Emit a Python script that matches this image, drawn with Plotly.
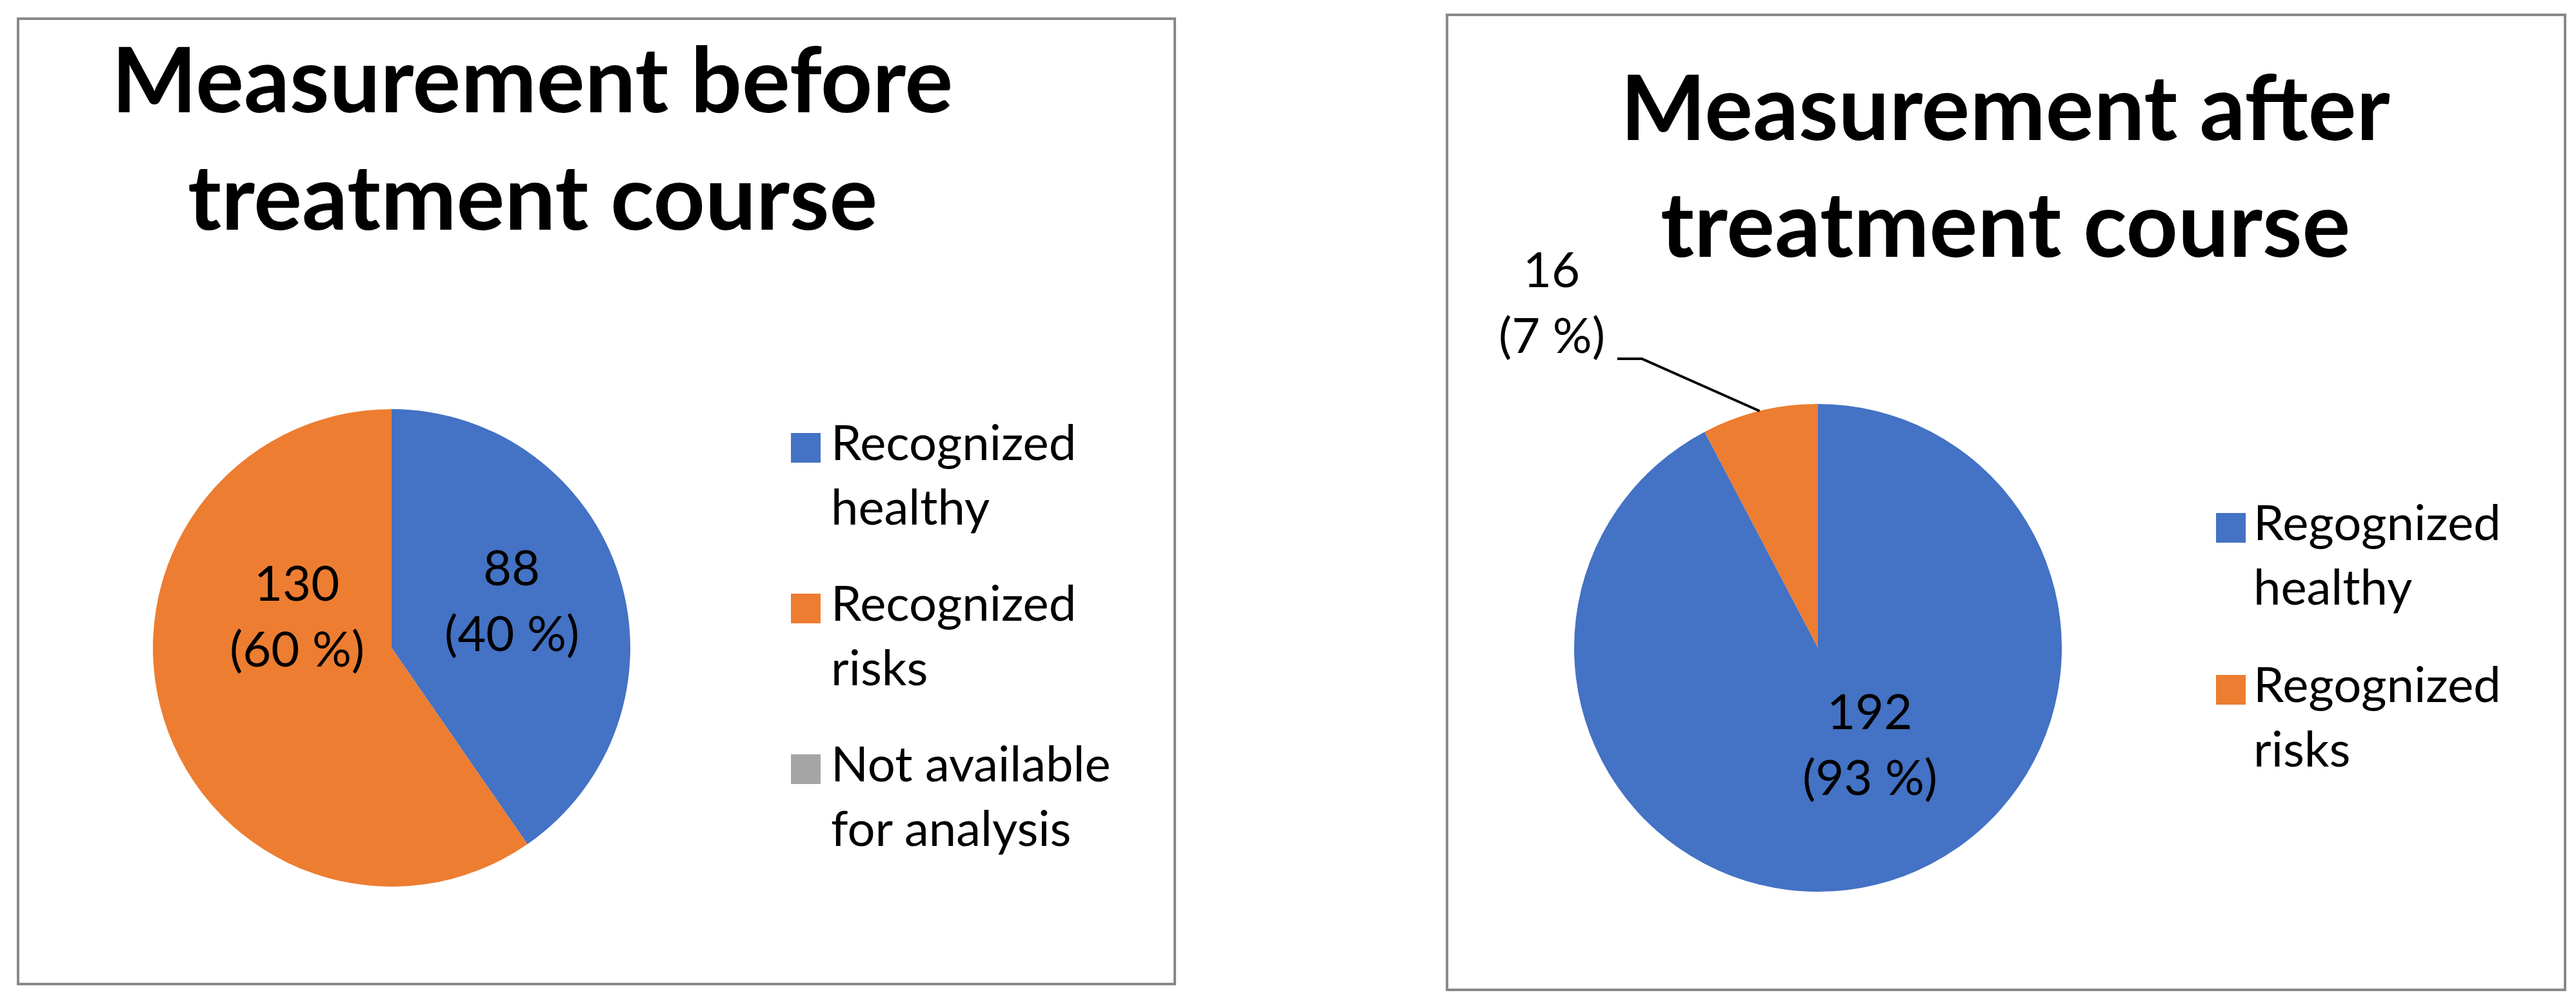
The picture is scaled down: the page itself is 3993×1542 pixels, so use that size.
import math
import plotly.graph_objects as go

W, H = 3993, 1542

# ---------------- data ----------------
before_labels = ["Recognized healthy", "Recognized risks", "Not available for analysis"]
before_values = [88, 130, 0]
before_pct = ["40 %", "60 %", ""]

after_labels = ["Regognized healthy", "Regognized risks"]
after_values = [192, 16]
after_pct = ["93 %", "7 %"]

colors = ["#4472C4", "#ED7D31", "#A5A5A5"]

title_before = ["Measurement before", "treatment course"]
title_after = ["Measurement after", "treatment course"]

# legend text split in two lines as in the picture
legend_before = [["Recognized", "healthy"], ["Recognized", "risks"], ["Not available", "for analysis"]]
legend_after = [["Regognized", "healthy"], ["Regognized", "risks"]]

FONT = "Lato"
TITLE_SIZE = 140
TEXT_SIZE = 76
LINE_GAP = 102
CAP_SHIFT = 0.14  # box centre sits this many em above the cap centre for this font


def px(x):
    return x / W


def py(y):
    return 1 - y / H


fig = go.Figure()

# pie geometry (pixels: centre and radius)
pies = [
    dict(cx=599, cy=996, r=370, labels=before_labels, values=before_values),
    dict(cx=2810, cy=996, r=378, labels=after_labels, values=after_values),
]
for p in pies:
    fig.add_trace(go.Pie(
        labels=p["labels"], values=p["values"],
        marker=dict(colors=colors[:len(p["labels"])], line=dict(width=0)),
        sort=False, direction="clockwise", rotation=0,
        textinfo="none", hoverinfo="label+value+percent",
        showlegend=False,
        domain=dict(x=[px(p["cx"] - p["r"]), px(p["cx"] + p["r"])],
                    y=[py(p["cy"] + p["r"]), py(p["cy"] - p["r"])]),
    ))

annotations = []
shapes = []


def text(x, y, s, size=TEXT_SIZE, bold=False, xanchor="center"):
    """y is the wanted centre of the capital letters, in pixels from the top."""
    annotations.append(dict(
        x=px(x), y=py(y - CAP_SHIFT * size), xref="paper", yref="paper", text=s,
        showarrow=False, xanchor=xanchor, yanchor="middle",
        font=dict(family=FONT, size=size, color="black", weight=700 if bold else 400),
    ))


# panel borders
for (x0, y0, x1, y1) in [(20, 21, 1813, 1517), (2235, 15, 3968, 1526)]:
    shapes.append(dict(type="rect", xref="paper", yref="paper",
                       x0=px(x0), x1=px(x1), y0=py(y1), y1=py(y0),
                       line=dict(color="#898989", width=4), fillcolor="rgba(0,0,0,0)"))

# titles
for i, line in enumerate(title_before):
    text(817, [132, 314][i], line, size=TITLE_SIZE, bold=True)
for i, line in enumerate(title_after):
    text(3100, [175, 356][i], line, size=TITLE_SIZE, bold=True)


# manual legends (large square keys as in the picture)
def legend(items, sq_x, text_x, rows):
    for k, (lines, y) in enumerate(zip(items, rows)):
        shapes.append(dict(type="rect", xref="paper", yref="paper",
                           x0=px(sq_x), x1=px(sq_x + 46), y0=py(y + 23), y1=py(y - 23),
                           line=dict(width=0), fillcolor=colors[k]))
        for j, ln in enumerate(lines):
            text(text_x, y + j * 100, ln, xanchor="left")


legend(legend_before, 1218, 1278, [686, 935, 1184])
legend(legend_after, 3427, 3483, [810, 1061])

# data labels
lab_before = [(785, 880), (452, 904)]
for (x, y), v, pc in zip(lab_before, before_values, before_pct):
    text(x, y, str(v))
    text(x, y + LINE_GAP, f"({pc})")

lab_after = [(2890, 1103), (2397, 418)]
for (x, y), v, pc in zip(lab_after, after_values, after_pct):
    text(x, y, str(v))
    text(x, y + LINE_GAP, f"({pc})")

# leader line for the small "after" slice: ends at the slice's mid-angle on the rim
p = pies[1]
tot = sum(after_values)
mid = (after_values[0] + after_values[1] / 2) / tot * 2 * math.pi
ex = p["cx"] + p["r"] * math.sin(mid)
ey = p["cy"] - p["r"] * math.cos(mid)
path = f"M {px(2499)} {py(548)} L {px(2537)} {py(548)} L {px(ex)} {py(ey)}"
shapes.append(dict(type="path", xref="paper", yref="paper", path=path,
                   line=dict(color="black", width=4)))

fig.update_layout(
    width=W, height=H, margin=dict(l=0, r=0, t=0, b=0),
    paper_bgcolor="white", plot_bgcolor="white",
    annotations=annotations, shapes=shapes, showlegend=False,
)

fig.write_html("out.html")
